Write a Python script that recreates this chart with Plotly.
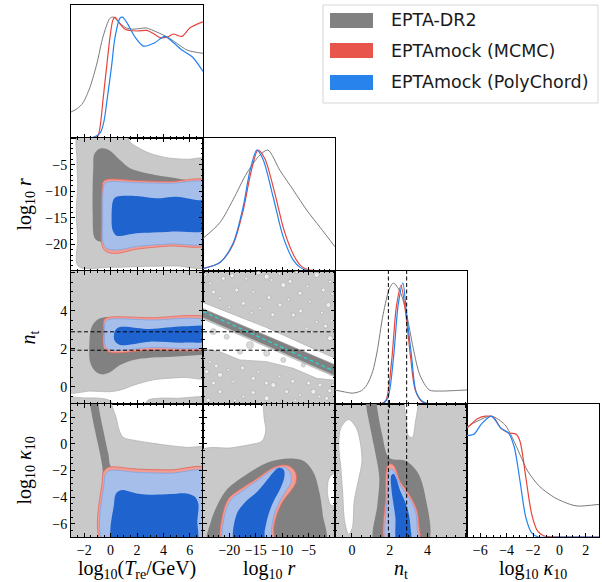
import plotly.graph_objects as go

# ---------------- 1D marginal densities (normalised, peak = 1) ----------------
T_grey_x = [-3, -2.5, -2.1, -1.56, -1.03, -0.58, -0.05, 0.2, 0.7, 1.2, 1.7, 2.2, 2.7, 3.5, 4.3, 5.0, 5.8, 7]
T_grey_p = [0.215, 0.245, 0.29, 0.42, 0.62, 0.835, 0.99, 1.0, 0.95, 0.91, 0.90, 0.905, 0.91, 0.876, 0.835, 0.785, 0.727, 0.70]
T_red_x = [-3, -1.5, -1.0, -0.8, -0.58, -0.3, -0.05, 0.17, 0.33, 0.6, 1.1, 2.0, 2.75, 3.3, 3.75, 4.3, 4.75, 5.4, 6.0, 7]
T_red_p = [0, 0, 0.01, 0.09, 0.31, 0.59, 0.83, 0.975, 1.0, 0.96, 0.90, 0.885, 0.89, 0.86, 0.83, 0.835, 0.86, 0.84, 0.91, 0.96]
T_blue_x = [-3, -1.5, -0.8, -0.5, -0.3, 0.07, 0.33, 0.7, 0.9, 1.2, 1.85, 2.5, 3.3, 4.1, 4.8, 5.4, 6.2, 7]
T_blue_p = [0, 0, 0.04, 0.14, 0.29, 0.59, 0.83, 0.99, 1.0, 0.96, 0.835, 0.76, 0.785, 0.84, 0.785, 0.727, 0.67, 0.55]

R_grey_x = [-25, -21.8, -19.3, -16.7, -14.2, -12.7, -10.4, -7.9, -5.3, -2.8, 0]
R_grey_p = [0.27, 0.40, 0.59, 0.81, 0.96, 1.0, 0.83, 0.67, 0.50, 0.36, 0.20]
R_red_x = [-25, -21.8, -19.3, -17.4, -16.0, -14.6, -13.3, -11.5, -9.6, -7.7, -6.4, -5, 0]
R_red_p = [0.02, 0.07, 0.22, 0.50, 0.80, 1.0, 0.93, 0.66, 0.33, 0.12, 0.04, 0.01, 0.0]
R_blue_x = [-25, -21.8, -19.3, -17.4, -16.1, -14.8, -13.6, -11.7, -9.8, -7.9, -6.6, -5, 0]
R_blue_p = [0.02, 0.07, 0.23, 0.53, 0.83, 1.0, 0.92, 0.61, 0.28, 0.09, 0.03, 0.0, 0.0]

NT_grey_x = [-0.9, -0.4, 0.05, 0.5, 0.8, 1.1, 1.33, 1.65, 2.0, 2.2, 2.55, 2.9, 3.25, 3.6, 4.1, 4.65, 5.3, 6.1]
NT_grey_p = [0.116, 0.10, 0.09, 0.11, 0.16, 0.27, 0.43, 0.74, 0.96, 1.0, 0.93, 0.74, 0.46, 0.24, 0.116, 0.107, 0.11, 0.116]
NT_red_x = [-0.9, 1.5, 1.8, 2.1, 2.35, 2.6, 2.85, 3.1, 3.35, 3.7, 4.1, 6.1]
NT_red_p = [0, 0, 0.03, 0.35, 0.80, 0.98, 0.75, 0.40, 0.12, 0.02, 0, 0]
NT_blue_x = [-0.9, 1.6, 1.9, 2.2, 2.45, 2.7, 2.9, 3.17, 3.4, 3.75, 4.1, 6.1]
NT_blue_p = [0, 0, 0.05, 0.38, 0.82, 1.0, 0.74, 0.38, 0.10, 0.02, 0, 0]

K_grey_x = [-7, -6.18, -5.16, -4.14, -3.56, -2.98, -2.4, -1.52, -0.35, 0.81, 1.4, 3]
K_grey_p = [0.91, 0.96, 1.0, 0.93, 0.82, 0.68, 0.545, 0.42, 0.325, 0.27, 0.256, 0.27]
K_red_x = [-7, -6.18, -5.6, -5.0, -4.43, -3.85, -3.27, -2.98, -2.54, -2.1, -1.66, -1.2, 0, 3]
K_red_p = [0.90, 0.98, 1.0, 0.99, 0.90, 0.86, 0.85, 0.79, 0.49, 0.19, 0.05, 0.01, 0, 0]
K_blue_x = [-7, -6.48, -5.9, -5.16, -4.43, -3.85, -3.41, -2.98, -2.54, -2.1, -1.6, 0, 3]
K_blue_p = [0.84, 0.85, 0.935, 1.0, 0.9, 0.86, 0.74, 0.46, 0.16, 0.035, 0, 0, 0]

# ---------------- 2D contour outlines (data coordinates) ----------------
# log10 r  vs  log10 Tre
RT_grey95 = [(-2.45, 0.5), (-2.55, -4), (-2.5, -9), (-2.6, -14), (-2.5, -19), (-2.45, -24.1), (0, -24.3), (3, -24.1),
             (5, -24.05), (7.5, -24.0), (7.5, -4.15), (5.8, -4.0), (4.5, -3.8), (3.0, -2.9), (2.0, -1.7), (1.5, -0.8), (1.15, 0.5)]
RT_grey68 = [(-1.26, -3.2), (-0.93, -2.13), (-0.55, -1.94), (-0.05, -2.38), (0.71, -4.14), (1.47, -5.7), (2.73, -6.64),
             (4.5, -7.4), (6.01, -8.02), (7.5, -8.5), (7.5, -18), (4, -18), (1, -18.5), (-0.5, -19.5), (-1.06, -19.2),
             (-1.26, -18.5), (-1.36, -14), (-1.36, -9.8), (-1.31, -5.4)]
RT_red95 = [(-0.68, -14.8), (-0.63, -9.15), (-0.555, -8.2), (-0.18, -7.77), (1.97, -8.02), (4.5, -8.2), (7.5, -8.2),
            (7.5, -19.9), (4.5, -20.3), (1.97, -20.9), (0.45, -21.7), (-0.3, -21.4), (-0.63, -20.4)]
RT_blue95 = [(-0.6, -14.8), (-0.555, -9.46), (-0.43, -8.52), (-0.05, -8.2), (1.97, -8.4), (4.5, -8.52), (7.5, -8.65),
             (7.5, -19.5), (4.5, -19.9), (1.97, -20.4), (0.45, -21.05), (-0.3, -20.74), (-0.555, -19.8)]
RT_blue68 = [(0.08, -14.16), (0.2, -11.65), (0.455, -11.03), (1.97, -10.9), (3.49, -11.34), (5.0, -11.03), (6.52, -11.65),
             (7.5, -12.0), (7.5, -17.1), (4.5, -17.6), (1.97, -17.9), (0.455, -18.36), (0.15, -17.3)]

# n_t  vs  log10 Tre
NT_T_grey95 = [(-3.5, 6.5), (7.5, 6.5), (7.5, 0.55), (5.5, 0.5), (3.5, 0.4), (2.5, 0.25), (1.7, 0.08), (0.8, -0.15),
               (0, -0.25), (-1.5, -0.22), (-3.5, -0.2)]
NT_T_grey95b = [(-3.5, -1.5), (-3.5, -0.6), (-2, -0.58), (-0.8, -0.6), (0, -0.75), (0.4, -1.5)]
NT_T_grey95c = [(2.4, -1.5), (2.8, -0.72), (3.6, -0.6), (5, -0.6), (7.5, -0.62), (7.5, -1.5)]
NT_T_grey68 = [(-0.8, 3.61), (2, 3.62), (5, 3.62), (7.5, 3.62), (7.5, 1.68), (6.95, 1.68), (4.75, 1.59), (2.98, 1.54),
               (1.72, 1.42), (0.71, 1.15), (-0.046, 0.77), (-0.68, 0.66), (-1.18, 0.84), (-1.56, 1.33), (-1.61, 2.2), (-1.43, 3.17)]
NT_T_red95 = [(-0.55, 2.9), (-0.5, 3.52), (-0.17, 3.66), (2.98, 3.64), (7.5, 3.57), (7.5, 2.12), (2.98, 1.94),
              (-0.046, 1.82), (-0.5, 2.03)]
NT_T_blue95 = [(-0.45, 2.82), (-0.4, 3.43), (-0.05, 3.56), (2.98, 3.52), (7.5, 3.43), (7.5, 2.21), (2.98, 2.07),
               (-0.05, 1.94), (-0.4, 2.13)]
NT_T_blue68 = [(0.28, 2.47), (0.33, 2.96), (0.71, 3.15), (2.98, 3.05), (5.51, 3.19), (7.5, 3.14), (7.5, 2.45),
               (5.51, 2.33), (2.98, 2.38), (0.71, 2.21)]

# n_t  vs  log10 r
NT_R_white_up = [(-25.5, 4.5), (-19.26, 3.82), (-12.94, 3.12), (-6.63, 2.33), (-0.32, 1.54), (0.5, 1.44), (0.5, 1.1), (-25.5, 4.17)]
NT_R_white_lo = [(-25.5, 3.7), (0.5, 0.55), (0.5, 0.3), (-0.32, 0.36), (-3.47, 0.45), (-7.9, 0.98), (-12.94, 1.33),
                 (-18, 1.42), (-21.78, 1.85), (-25.5, 2.03)]
NT_R_grey95 = [(-25.5, 4.17), (0.5, 1.1), (0.5, 0.46), (-25.5, 3.64)]
NT_R_grey68 = [(-25.5, 4.15), (0.5, 1.08), (0.5, 0.55), (-25.5, 3.73)]
NT_R_holes = [(-21.15, 5.71), (-23.68, 5.45), (-12.94, 5.8), (-12.0, 5.63), (-7.26, 6.07), (-3.47, 5.89), (-0.95, 5.54),
              (-18.63, 5.1), (-15.47, 5.01), (-9.79, 5.36), (-6.63, 4.93), (-4.74, 4.49), (-1.26, 4.31), (-10.42, 4.31),
              (-14.21, 4.14), (-17.36, 4.4), (-21.78, 4.66), (-7.89, 3.78), (-3.47, 3.43), (-0.95, 2.56), (-5.37, 3.08),
              (-24.5, 5.9), (-19.5, 5.85), (-16.8, 5.7), (-14.5, 6.0), (-10.5, 5.95), (-8.5, 5.55), (-5.2, 5.3),
              (-2.2, 5.1), (-0.5, 4.9), (-23.0, 5.0), (-20.0, 4.2), (-12.5, 4.7), (-8.8, 4.6), (-6.5, 4.0), (-2.5, 3.9),
              (-4.5, 2.9), (-1.8, 3.2), (-0.6, 3.5), (-11.8, 3.8), (-15.8, 3.9),
              (-24.31, 0.8), (-21.78, 0.63), (-19.26, 0.28), (-15.47, 0.45), (-11.68, 0.1), (-9.16, -0.25), (-6.63, -0.43),
              (-4.1, -0.25), (-21.78, -0.25), (-17.36, -0.51), (-12.94, -0.6), (-1.58, -0.6), (-23.68, 1.33), (-2.84, 0.1),
              (-24.8, 1.5), (-22.5, 1.1), (-20.2, 0.9), (-17.5, 1.0), (-14.5, 0.8), (-13.0, 0.2), (-10.5, 0.55),
              (-8.0, 0.3), (-7.5, -0.7), (-5.0, 0.2), (-3.0, -0.5), (-1.0, -0.2), (-0.4, 0.1), (-23.0, 0.2),
              (-19.0, -0.7), (-15.5, -0.3), (-10.0, -0.75), (-24.0, -0.7)]
NT_R_hole_size = [4, 3, 5, 3, 4, 5, 3, 4, 3, 5, 4, 3, 5, 4, 3, 4, 3, 4, 3, 5, 3,
                  3, 4, 3, 4, 3, 4, 3, 4, 3, 4, 3, 4, 3, 4, 3, 3, 4, 3, 4, 3,
                  4, 5, 3, 4, 5, 4, 3, 5, 4, 3, 5, 4, 3, 4,
                  3, 4, 3, 4, 3, 4, 3, 4, 3, 4, 3, 4, 3, 4, 3, 4, 3, 4]
NT_R_islands = [(-23.05, 2.91), (-20.52, 2.64), (-16.1, 2.2), (-18.0, 1.85), (-12.94, 1.77), (-9.79, 1.42), (-6.0, 1.15)]
NT_R_island_size = [6, 5, 7, 5, 6, 5, 4]
LINE_R = [-25, -0.3]
LINE_NT = [3.97, 0.85]

# log10 kappa  vs  log10 Tre
KT_grey95 = [(-3.5, 3.5), (0.08, 3.5), (0.08, 3), (0.41, 2.0), (0.66, 1.0), (0.96, 0.49), (1.97, 0.24), (3.24, 0.04),
             (4.5, -0.13), (5.76, -0.26), (7.5, -0.4), (7.5, -7.5), (-3.5, -7.5)]
KT_grey68 = [(-1.6, 3.5), (-1.56, 3), (-1.18, 1.0), (-0.8, -0.76), (-0.6, -2.0), (-0.65, -4), (-0.65, -7.5), (7.5, -7.5),
             (7.5, -1.9), (4.5, -1.95), (1.97, -1.88), (0.08, -1.76), (-0.17, -0.76), (-0.55, 1.0), (-0.93, 3), (-0.95, 3.5)]
KT_red95 = [(-0.63, -7.5), (-0.63, -2.76), (-0.55, -2.14), (-0.17, -1.76), (1.97, -1.89), (4.5, -1.96), (7.5, -1.89), (7.5, -7.5)]
KT_blue95 = [(-0.48, -7.5), (-0.48, -2.89), (-0.4, -2.31), (-0.05, -2.01), (1.97, -2.14), (4.5, -2.21), (7.5, -2.14), (7.5, -7.5)]
KT_blue68 = [(0.21, -7.5), (0.26, -4.52), (0.41, -3.72), (0.84, -3.47), (1.97, -3.72), (3.24, -3.82), (4.5, -3.77),
             (5.76, -3.72), (6.39, -3.97), (6.65, -4.52), (6.57, -5.77), (6.47, -7.5)]

# log10 kappa  vs  log10 r
KR_grey95 = [(-25.5, -0.55), (-19.68, -0.3), (-16.03, -0.05), (-13.85, 0.2), (-13.12, 0.95), (-13.48, 2.2), (-13.12, 3.5),
             (0.5, 3.5), (0.5, -2.18), (0, -2.18), (-1.09, -2.55), (-1.46, -3.55), (-0.87, -4.55), (0, -4.68), (0.5, -4.68),
             (0.5, -7.5), (-25.5, -7.5)]
KR_grey68 = [(-24.05, -7.5), (-23.47, -5.8), (-22.23, -4.55), (-20.4, -3.4), (-16.76, -2.3), (-12.39, -1.35),
             (-8.75, -1.1), (-5.83, -1.3), (-4.0, -2.2), (-2.92, -3.7), (-2.33, -5.3), (-1.9, -7.5)]
KR_red95 = [(-21.36, -7.5), (-21.28, -5.3), (-20.04, -4.05), (-17.49, -3.3), (-14.58, -2.55), (-12.03, -1.85), (-10.2, -1.6),
            (-8.6, -1.68), (-7.43, -2.18), (-7.43, -2.93), (-8.38, -3.55), (-9.84, -4.3), (-11.0, -5.3), (-11.6, -6.3), (-11.8, -7.5)]
KR_blue95 = [(-20.99, -7.5), (-20.85, -5.3), (-19.68, -4.18), (-17.13, -3.43), (-14.43, -2.68), (-12.03, -2.0), (-10.35, -1.75),
             (-9.11, -1.85), (-8.38, -2.3), (-8.38, -2.93), (-9.33, -3.55), (-10.5, -4.35), (-11.5, -5.3), (-12.0, -6.3), (-12.3, -7.5)]
KR_blue68 = [(-19.0, -7.5), (-18.65, -5.3), (-16.8, -4.3), (-14.6, -3.55), (-12.8, -2.68), (-11.5, -2.05), (-10.6, -1.8),
             (-9.7, -1.95), (-9.6, -2.5), (-10.4, -3.4), (-11.6, -4.3), (-12.6, -5.3), (-13.3, -6.5), (-13.6, -7.5)]

# log10 kappa  vs  n_t
KN_white1 = [(-0.18, 1.83), (0.23, 1.2), (0.43, 0.2), (0.53, -1.3), (0.33, -2.8), (0.12, -4.3), (0.02, -6.3), (-0.18, -6.8),
             (-0.39, -5.8), (-0.49, -3.8), (-0.59, -1.8), (-0.7, -0.05), (-0.59, 1.2)]
KN_white2 = [(2.85, 3.5), (2.88, 1.7), (3.0, 0.6), (3.2, 0.5), (3.35, 1.5), (3.45, 3.5)]
KN_grey68 = [(0.74, 3.5), (0.74, 3), (1.15, -0.05), (1.45, -2.55), (1.35, -4.55), (1.2, -7.5), (4.01, -7.5), (3.87, -3.8),
             (3.5, -2.18), (2.89, -1.3), (1.97, -1.05), (1.6, 0.7), (1.31, 3), (1.31, 3.5)]
KN_red95 = [(1.8, -7.5), (1.78, -4), (1.8, -2.2), (1.87, -1.7), (2.0, -1.5), (2.2, -1.6), (2.35, -2.0), (2.55, -2.8),
            (2.9, -3.5), (3.2, -4.2), (3.45, -5.0), (3.55, -6), (3.55, -7.5)]
KN_blue95 = [(1.9, -7.5), (1.87, -4), (1.9, -2.5), (1.97, -2.05), (2.1, -1.9), (2.25, -2.1), (2.4, -2.6), (2.6, -3.2),
             (2.9, -3.8), (3.2, -4.5), (3.4, -5.3), (3.45, -6.2), (3.45, -7.5)]
KN_blue68 = [(2.4, -7.5), (2.3, -5.5), (2.1, -3.5), (2.08, -2.4), (2.2, -2.25), (2.35, -2.6), (2.55, -3.5), (2.8, -4.3),
             (3.0, -5.2), (3.1, -6.2), (3.1, -7.5)]

NT_BOUNDS = [1.93, 2.9]

LEGEND_LABELS = ["EPTA-DR2", "EPTAmock (MCMC)", "EPTAmock (PolyChord)"]

# ---------------- styling / layout ----------------
W, H = 602, 582
COL_PX = [(71, 203), (203, 335), (335, 467), (467, 599)]
ROW_PX = [(5, 138), (138, 271), (271, 404), (404, 537)]
RANGES = [[-3, 7], [-25, 0], [-0.9, 6.1], [-7, 3]]
TICKS = [
    ([-2, 0, 2, 4, 6], ['−2', '0', '2', '4', '6'], 0.5),
    ([-20, -15, -10, -5], ['−20', '−15', '−10', '−5'], 1),
    ([0, 2, 4, 6], ['0', '2', '4', ''], 0.5),
    ([-6, -4, -2, 0, 2], ['−6', '−4', '−2', '0', '2'], 0.5),
]
PANELS = {(0, 0): 1, (1, 0): 2, (1, 1): 3, (2, 0): 4, (2, 1): 5, (2, 2): 6,
          (3, 0): 7, (3, 1): 8, (3, 2): 9, (3, 3): 10}
SERIF = "Liberation Serif"
LGREY, DGREY = '#c9c9c9', '#818181'
RED95, BLUE95, BLUE68 = '#f09d94', '#a5bfea', '#1f63cf'
GREY_LINE, RED_LINE, BLUE_LINE = '#7a7a7a', '#e8443a', '#2182f0'


def xdom(c):
    return [COL_PX[c][0] / W, COL_PX[c][1] / W]


def ydom(r):
    return [1 - ROW_PX[r][1] / H, 1 - ROW_PX[r][0] / H]


fig = go.Figure()


def poly(n, pts, fill, edge=None, lw=0.0, shape='spline'):
    xs = [p[0] for p in pts] + [pts[0][0]]
    ys = [p[1] for p in pts] + [pts[0][1]]
    fig.add_trace(go.Scatter(x=xs, y=ys, mode='lines', fill='toself', fillcolor=fill,
                             line=dict(color=edge or fill, width=lw, shape=shape, smoothing=0.9),
                             hoverinfo='skip', showlegend=False, xaxis=f'x{n}', yaxis=f'y{n}'))


def curve(n, xs, ps, color, w):
    fig.add_trace(go.Scatter(x=xs, y=ps, mode='lines', line=dict(color=color, width=w, shape='spline', smoothing=0.8),
                             hoverinfo='skip', showlegend=False, xaxis=f'x{n}', yaxis=f'y{n}'))


shapes = []


def bg(n, color):
    shapes.append(dict(type='rect', xref=f'x{n} domain', yref=f'y{n} domain', x0=0, x1=1, y0=0, y1=1,
                       fillcolor=color, line=dict(width=0), layer='below'))


# diagonal 1D
curve(1, T_grey_x, T_grey_p, GREY_LINE, 1)
curve(1, T_red_x, T_red_p, RED_LINE, 1.2)
curve(1, T_blue_x, T_blue_p, BLUE_LINE, 1.2)
curve(3, R_grey_x, R_grey_p, GREY_LINE, 1)
curve(3, R_red_x, R_red_p, RED_LINE, 1.2)
curve(3, R_blue_x, R_blue_p, BLUE_LINE, 1.2)
curve(6, NT_grey_x, NT_grey_p, GREY_LINE, 1)
curve(6, NT_red_x, NT_red_p, RED_LINE, 1.2)
curve(6, NT_blue_x, NT_blue_p, BLUE_LINE, 1.2)
curve(10, K_grey_x, K_grey_p, GREY_LINE, 1)
curve(10, K_red_x, K_red_p, RED_LINE, 1.2)
curve(10, K_blue_x, K_blue_p, BLUE_LINE, 1.2)

EDGE_L, EDGE_R, EDGE_B = '#b3b3b3', '#e86a5e', '#7ea4e6'

# panel 2
poly(2, RT_grey95, LGREY, EDGE_L, 0.8)
poly(2, RT_grey68, DGREY)
poly(2, RT_red95, RED95, EDGE_R, 0.8)
poly(2, RT_blue95, BLUE95, EDGE_B, 0.8)
poly(2, RT_blue68, BLUE68)

# panel 4
poly(4, NT_T_grey95, LGREY, EDGE_L, 0.8)
poly(4, NT_T_grey95b, LGREY, EDGE_L, 0.8)
poly(4, NT_T_grey95c, LGREY, EDGE_L, 0.8)
poly(4, NT_T_grey68, DGREY)
poly(4, NT_T_red95, RED95, EDGE_R, 0.8)
poly(4, NT_T_blue95, BLUE95, EDGE_B, 0.8)
poly(4, NT_T_blue68, BLUE68)

# panel 5
bg(5, LGREY)
poly(5, NT_R_white_up, 'white', '#a8a8a8', 0.6, 'linear')
poly(5, NT_R_white_lo, 'white', '#a8a8a8', 0.6, 'linear')
poly(5, NT_R_grey95, LGREY, '#a8a8a8', 0.6, 'linear')
poly(5, NT_R_grey68, DGREY, DGREY, 0.5, 'linear')
fig.add_trace(go.Scatter(x=[p[0] for p in NT_R_holes], y=[p[1] for p in NT_R_holes], mode='markers',
                         marker=dict(color='white', size=NT_R_hole_size, line=dict(color='#a3a3a3', width=0.7)),
                         hoverinfo='skip', showlegend=False, xaxis='x5', yaxis='y5'))
fig.add_trace(go.Scatter(x=[p[0] for p in NT_R_islands], y=[p[1] for p in NT_R_islands], mode='markers',
                         marker=dict(color=LGREY, size=NT_R_island_size, line=dict(color='#a3a3a3', width=0.7)),
                         hoverinfo='skip', showlegend=False, xaxis='x5', yaxis='y5'))
fig.add_trace(go.Scatter(x=LINE_R, y=LINE_NT, mode='lines', line=dict(color='#2ed2d2', width=1.3, dash='4px,2.5px'),
                         hoverinfo='skip', showlegend=False, xaxis='x5', yaxis='y5'))

# panel 7
poly(7, KT_grey95, LGREY, EDGE_L, 0.8)
poly(7, KT_grey68, DGREY)
poly(7, KT_red95, RED95, EDGE_R, 0.8)
poly(7, KT_blue95, BLUE95, EDGE_B, 0.8)
poly(7, KT_blue68, BLUE68)

# panel 8
poly(8, KR_grey95, LGREY, EDGE_L, 0.8)
poly(8, KR_grey68, DGREY)
poly(8, KR_red95, RED95, EDGE_R, 0.8)
poly(8, KR_blue95, BLUE95, EDGE_B, 0.8)
poly(8, KR_blue68, BLUE68)

# panel 9
bg(9, LGREY)
poly(9, KN_white1, 'white', EDGE_L, 0.8)
poly(9, KN_white2, 'white', EDGE_L, 0.8)
poly(9, KN_grey68, DGREY)
poly(9, KN_red95, RED95, EDGE_R, 0.8)
poly(9, KN_blue95, BLUE95, EDGE_B, 0.8)
poly(9, KN_blue68, BLUE68)

# dashed n_t bounds
for v in NT_BOUNDS:
    for n in (4, 5):
        shapes.append(dict(type='line', xref=f'x{n} domain', yref=f'y{n}', x0=0, x1=1, y0=v, y1=v,
                           line=dict(color='black', width=1, dash='4px,2.5px'), layer='above'))
    for n in (6, 9):
        shapes.append(dict(type='line', xref=f'x{n}', yref=f'y{n} domain', x0=v, x1=v, y0=0, y1=1,
                           line=dict(color='black', width=1, dash='4px,2.5px'), layer='above'))

layout = dict(width=W, height=H, margin=dict(l=0, r=0, t=0, b=0), paper_bgcolor='white', plot_bgcolor='white',
              showlegend=False)

TICK_FONT = dict(family=SERIF, size=14, color='black')
for (r, c), n in PANELS.items():
    diag = r == c
    tv, tt, mn = TICKS[c]
    xa = dict(domain=xdom(c), anchor=f'y{n}', range=RANGES[c], showline=True, linecolor='black', linewidth=1,
              mirror=True if diag else 'allticks', ticks='inside', ticklen=4, tickwidth=1, tickcolor='black',
              tickmode='array', tickvals=tv, ticktext=tt, showticklabels=(r == 3),
              tickfont=TICK_FONT, showgrid=False, zeroline=False,
              minor=dict(ticks='inside', ticklen=2, tickwidth=0.8, tickcolor='black', tickmode='linear',
                         tick0=0, dtick=mn, showgrid=False))
    if diag:
        ya = dict(domain=ydom(r), anchor=f'x{n}', range=[0, 1.1], showline=True, linecolor='black', linewidth=1,
                  mirror=True, ticks='', showticklabels=False, showgrid=False, zeroline=False)
    else:
        tv2, tt2, mn2 = TICKS[r]
        ya = dict(domain=ydom(r), anchor=f'x{n}', range=RANGES[r], showline=True, linecolor='black', linewidth=1,
                  mirror='allticks', ticks='inside', ticklen=4, tickwidth=1, tickcolor='black',
                  tickmode='array', tickvals=tv2, ticktext=tt2, showticklabels=(c == 0),
                  tickfont=TICK_FONT, showgrid=False, zeroline=False,
                  minor=dict(ticks='inside', ticklen=2, tickwidth=0.8, tickcolor='black', tickmode='linear',
                             tick0=0, dtick=mn2, showgrid=False))
    key = '' if n == 1 else str(n)
    layout[f'xaxis{key}'] = xa
    layout[f'yaxis{key}'] = ya

# legend (drawn by hand, matplotlib style)
LEG_COLORS = ['#818181', '#e8554a', '#2884ec']
LEG_Y = [20.5, 50.5, 82.5]
shapes.append(dict(type='rect', xref='paper', yref='paper', x0=323 / W, x1=598 / W, y0=1 - 103 / H, y1=1 - 5 / H,
                   fillcolor='white', line=dict(color='#d6d6d6', width=1), layer='above'))
annotations = []
for lab, col, yc in zip(LEGEND_LABELS, LEG_COLORS, LEG_Y):
    shapes.append(dict(type='rect', xref='paper', yref='paper', x0=330 / W, x1=373 / W,
                       y0=1 - (yc + 7.5) / H, y1=1 - (yc - 7.5) / H, fillcolor=col, line=dict(width=0), layer='above'))
    annotations.append(dict(text=lab, xref='paper', yref='paper', x=389 / W, y=1 - yc / H, xanchor='left',
                            yanchor='middle', showarrow=False, font=dict(family='DejaVu Sans', size=17.5, color='#1a1a1a')))

TITLE_FONT = dict(family=SERIF, size=20, color='black')
XTITLES = ['log<sub>10</sub>(<i>T</i><sub>re</sub>/GeV)', 'log<sub>10</sub> <i>r</i>', '<i>n</i><sub>t</sub>',
           'log<sub>10</sub> <i>κ</i><sub>10</sub>']
for c, t in enumerate(XTITLES):
    annotations.append(dict(text=t, xref='paper', yref='paper', x=(COL_PX[c][0] + COL_PX[c][1]) / 2 / W,
                            y=1 - 569.5 / H, xanchor='center', yanchor='middle', showarrow=False, font=TITLE_FONT))
for r, t, xp in [(1, XTITLES[1], 25), (2, XTITLES[2], 29), (3, XTITLES[3], 25)]:
    annotations.append(dict(text=t, xref='paper', yref='paper', x=xp / W, y=1 - (ROW_PX[r][0] + ROW_PX[r][1]) / 2 / H,
                            xanchor='center', yanchor='middle', textangle=-90, showarrow=False, font=TITLE_FONT))

layout['shapes'] = shapes
layout['annotations'] = annotations
fig.update_layout(**layout)
fig.write_html("out.html")
